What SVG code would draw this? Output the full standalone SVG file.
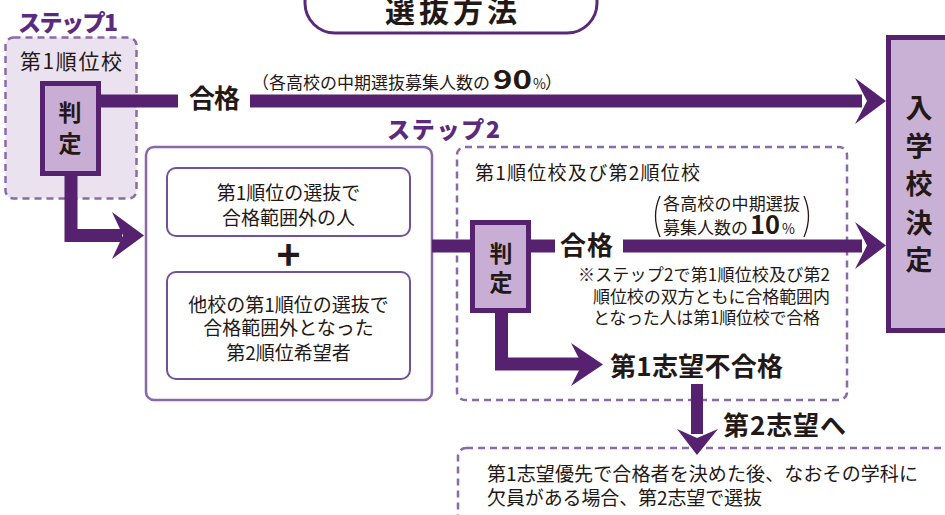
<svg xmlns="http://www.w3.org/2000/svg" width="945" height="515" viewBox="0 0 945 515">
<style>
  text { font-family: "Noto Sans CJK JP", "Noto Sans", sans-serif; fill: #231815; }
  .b { font-weight: 700; }
  .step { fill: #5b2a80; font-weight: 900; font-size: 23px; }
  .t19 { font-size: 19px; }
  .t17 { font-size: 17px; }
  .judge { fill: #c8aed4; stroke: #56216f; stroke-width: 5; }
  .dash { fill: none; stroke: #8b6aa6; stroke-width: 2.5; stroke-dasharray: 7 5; }
  .inner { fill: #fff; stroke: #74509a; stroke-width: 2; }
  .bar { fill: #56216f; }
  .ln { fill: none; stroke: #56216f; stroke-width: 13; stroke-linejoin: miter; }
  .paren { fill: none; stroke: #231815; stroke-width: 1.3; }
</style>

<g id="title">
  <rect x="305" y="-30" width="292" height="63" rx="30" fill="#fff" stroke="#5a2a7a" stroke-width="3"/>
  <text x="451" y="22" class="b" font-size="30" text-anchor="middle" textLength="132">選抜方法</text>
</g>

<g id="step1">
  <text x="18" y="31" class="step" textLength="100">ステップ1</text>
  <rect x="5.5" y="37.5" width="131" height="161" rx="8" fill="#ebe2ef" stroke="#8b6aa6" stroke-width="2.5" stroke-dasharray="7 5"/>
  <text x="20" y="69" font-size="21" textLength="102">第1順位校</text>
</g>

<g id="judge1">
  <rect x="42.5" y="83.5" width="56" height="90" class="judge"/>
  <text x="70" y="121" class="b" font-size="23" text-anchor="middle">判</text>
  <text x="70" y="152" class="b" font-size="23" text-anchor="middle">定</text>
</g>

<g id="step2">
  <text x="387" y="138" class="step" textLength="113">ステップ2</text>
  <rect x="146" y="147" width="286" height="253" rx="8" fill="#fff" stroke="#8a67a5" stroke-width="2.5"/>
</g>

<g id="cand1">
  <rect x="167" y="168" width="243" height="68" rx="9" class="inner"/>
  <text x="288.5" y="200" class="t19" text-anchor="middle">第1順位の選抜で</text>
  <text x="288.5" y="225" class="t19" text-anchor="middle">合格範囲外の人</text>
</g>

<g id="plus">
  <text x="288.5" y="268" font-family="Liberation Sans, Arial, sans-serif" font-weight="700" font-size="34" text-anchor="middle" transform="translate(288.5 257) scale(1.2) translate(-288.5 -257)">+</text>
</g>

<g id="cand2">
  <rect x="167" y="272" width="243" height="107" rx="9" class="inner"/>
  <text x="288.5" y="312" class="t19" text-anchor="middle">他校の第1順位の選抜で</text>
  <text x="288.5" y="335" class="t19" text-anchor="middle">合格範囲外となった</text>
  <text x="288.5" y="360" class="t19" text-anchor="middle">第2順位希望者</text>
</g>

<g id="step2schools">
  <rect x="457" y="147" width="390" height="253" rx="8" class="dash"/>
  <text x="475" y="180" font-size="19" textLength="225">第1順位校及び第2順位校</text>
</g>

<g id="judge2">
  <rect x="472.5" y="222.5" width="56" height="88" class="judge"/>
  <text x="501" y="262" class="b" font-size="23" text-anchor="middle">判</text>
  <text x="501" y="291" class="b" font-size="23" text-anchor="middle">定</text>
</g>

<g id="decision">
  <rect x="888.5" y="37.5" width="70" height="293" fill="#c9b0d5" stroke="#56216f" stroke-width="5"/>
  <text x="919" y="118" class="b" font-size="27" text-anchor="middle">入</text>
  <text x="919" y="156" class="b" font-size="27" text-anchor="middle">学</text>
  <text x="919" y="194" class="b" font-size="27" text-anchor="middle">校</text>
  <text x="919" y="233" class="b" font-size="27" text-anchor="middle">決</text>
  <text x="919" y="270" class="b" font-size="27" text-anchor="middle">定</text>
</g>

<g id="second-choice">
  <rect x="458" y="448" width="600" height="100" rx="8" class="dash"/>
  <text x="487" y="481" font-size="19" textLength="431">第1志望優先で合格者を決めた後、なおその学科に</text>
  <text x="487" y="505" font-size="19" textLength="275">欠員がある場合、第2志望で選抜</text>
</g>

<g id="connectors">
  <rect x="101" y="94.5" width="77" height="13" class="bar"/>
  <rect x="250" y="94.5" width="612" height="13" class="bar"/>
  <polygon points="855,78 886,101 855,124 867,101" class="bar"/>
  <path d="M71 176 V235.5 H122" class="ln"/>
  <polygon points="112,212 144,235.5 112,259 123,235.5" class="bar"/>
  <rect x="432" y="239.5" width="40" height="13" class="bar"/>
  <rect x="528" y="239.5" width="27" height="13" class="bar"/>
  <rect x="623" y="239.5" width="239" height="13" class="bar"/>
  <polygon points="855,222 886,245.5 855,269 867,245.5" class="bar"/>
  <path d="M501.5 311 V364 H582" class="ln"/>
  <polygon points="571,343 603,364.5 571,386 582,364.5" class="bar"/>
  <rect x="691" y="384" width="12" height="50" class="bar"/>
  <polygon points="677,429 697,455 718,429 697,438" class="bar"/>
</g>

<g id="labels">
  <text x="189" y="108" class="b" font-size="26" textLength="51">合格</text>
  <text x="252" y="89" class="t17">（各高校の中期選抜募集人数の<tspan class="b" font-size="25" textLength="39" lengthAdjust="spacingAndGlyphs" x="493">90</tspan><tspan font-size="14" x="533">%</tspan><tspan x="545">）</tspan></text>
  <text x="560" y="255" class="b" font-size="26" textLength="53">合格</text>
  <path d="M660 196 Q651 216 660 237" class="paren"/>
  <path d="M804 196 Q813 216 804 237" class="paren"/>
  <text x="663" y="210" class="t17" textLength="137">各高校の中期選抜</text>
  <text x="663" y="234" class="t17">募集人数の<tspan class="b" font-size="25" textLength="30" lengthAdjust="spacingAndGlyphs" x="750">10</tspan><tspan font-size="14" x="782">%</tspan></text>
  <text x="578" y="281" class="t17" textLength="252">※ステップ2で第1順位校及び第2</text>
  <text x="593" y="303" class="t17" textLength="237">順位校の双方ともに合格範囲内</text>
  <text x="593" y="324" class="t17" textLength="227">となった人は第1順位校で合格</text>
  <text x="610" y="376" class="b" font-size="26" textLength="173">第1志望不合格</text>
  <text x="723" y="435" class="b" font-size="26" textLength="123">第2志望へ</text>
</g>
</svg>
